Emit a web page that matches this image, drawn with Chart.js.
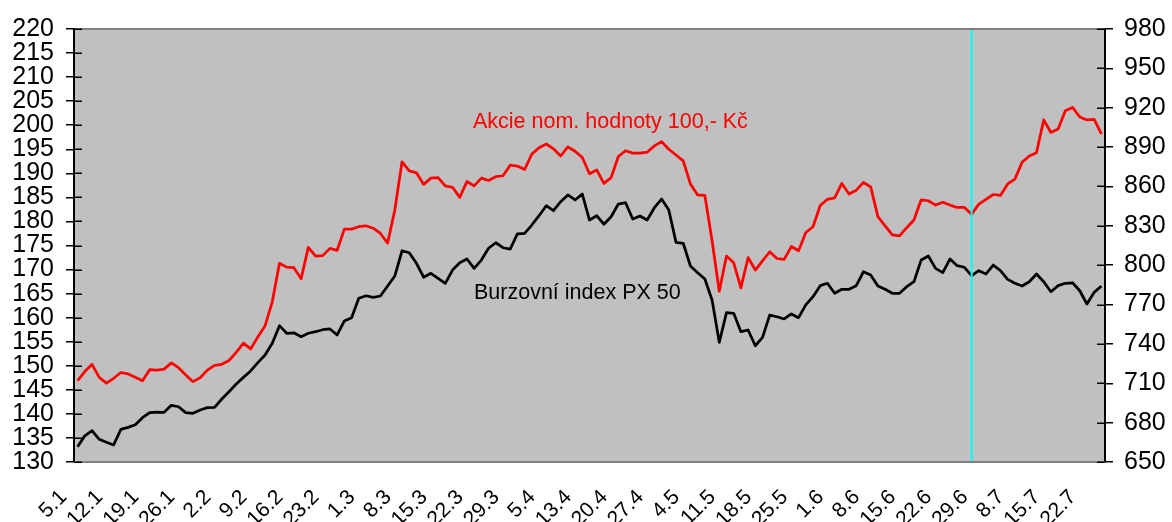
<!DOCTYPE html>
<html><head><meta charset="utf-8">
<script src="https://cdn.jsdelivr.net/npm/chart.js@4/dist/chart.umd.min.js"></script>
<style>html,body{margin:0;padding:0;background:#fff}#wrap{width:1172px;height:522px;position:relative;overflow:hidden}</style>
</head><body><div id="wrap"><canvas id="c" width="1172" height="522"></canvas></div>
<script>
const tickDates = ['5.1','12.1','19.1','26.1','2.2','9.2','16.2','23.2','1.3','8.3','15.3','22.3','29.3','5.4','13.4','20.4','27.4','4.5','11.5','18.5','25.5','1.6','8.6','15.6','22.6','29.6','8.7','15.7','22.7'];

const akcie = [
 146.9,148.8,150.3,147.6,146.4,147.4,148.6,148.3,147.6,146.9,
 149.2,149.1,149.3,150.6,149.6,148.1,146.7,147.5,149.1,150.1,
 150.3,151.1,152.8,154.7,153.5,156.0,158.3,163.3,171.3,170.5,
 170.4,168.1,174.6,172.8,172.9,174.4,174.0,178.4,178.4,178.9,
 179.1,178.6,177.5,175.5,182.4,192.4,190.5,190.1,187.7,189.0,
 189.1,187.4,187.1,185.0,188.3,187.4,189.0,188.5,189.3,189.5,
 191.7,191.5,190.8,194.0,195.3,196.1,195.1,193.6,195.5,194.6,
 193.3,189.9,190.7,187.9,189.1,193.5,194.7,194.2,194.2,194.4,
 195.7,196.6,195.0,193.8,192.6,187.8,185.5,185.4,176.0,165.5,
 172.8,171.4,166.2,172.5,169.9,171.8,173.7,172.3,172.1,174.8,
 173.9,177.7,178.9,183.3,184.6,184.9,187.9,185.7,186.5,188.1,
 187.2,181.0,179.1,177.2,177.0,178.7,180.3,184.5,184.3,183.4,
 184.0,183.4,182.9,182.9,181.5,183.6,184.6,185.6,185.4,187.8,
 188.8,192.3,193.6,194.3,201.1,198.5,199.2,203.0,203.7,201.7,
 201.1,201.2,198.2
];

const px50 = [
 661.7,670.0,673.9,667.3,665.0,663.0,674.9,676.4,678.4,683.8,
 687.6,688.1,687.9,693.2,692.1,687.6,687.1,689.6,691.4,691.7,
 698.0,703.6,709.4,714.5,719.4,725.7,731.5,740.5,753.9,748.1,
 748.5,745.5,748.1,749.3,750.8,751.4,746.8,757.5,760.0,774.8,
 776.7,775.5,776.5,784.1,791.8,811.0,809.5,801.4,790.8,793.8,
 790.0,786.2,796.3,801.9,804.7,797.6,803.9,812.9,817.1,813.3,
 812.3,823.8,824.3,830.6,837.7,845.3,841.5,848.4,853.5,849.7,
 854.2,834.4,837.7,831.2,836.9,846.6,847.6,835.2,837.5,834.4,
 843.8,850.4,842.1,817.4,816.7,799.4,794.3,789.5,773.5,741.2,
 763.8,763.3,749.3,750.6,738.6,745.0,762.0,760.7,759.0,762.8,
 760.0,769.7,776.0,784.4,786.2,778.6,781.6,781.6,784.4,795.0,
 792.5,784.1,781.6,778.6,778.6,783.6,787.4,803.9,807.0,797.6,
 794.3,804.7,799.6,798.4,792.0,795.8,793.3,800.1,795.8,789.2,
 786.2,784.1,787.4,793.3,787.4,779.8,784.4,786.2,786.6,780.5,
 770.4,779.3,784.1
];

const leftTicks = [130,135,140,145,150,155,160,165,170,175,180,185,190,195,200,205,210,215,220];
const rightTicks = [650,680,710,740,770,800,830,860,890,920,950,980];
const markerIndex = 124;
const akcieLabel = 'Akcie nom. hodnoty 100,- Kč';
const px50Label = 'Burzovní index PX 50';
const LABEL_STEP = 5;

const categories = akcie.map((_, i) => (i % LABEL_STEP === 0 && tickDates[i / LABEL_STEP]) ? tickDates[i / LABEL_STEP] : '');

const FONT = '"Liberation Sans", Arial, sans-serif';

const framePlugin = {
  id: 'frame',
  beforeDraw(chart) {
    const {ctx, chartArea: a} = chart;
    ctx.save();
    ctx.fillStyle = '#C0C0C0';
    ctx.fillRect(a.left, a.top, a.right - a.left, a.bottom - a.top);
    ctx.restore();
  },
  afterDatasetsDraw(chart) {
    const {ctx, chartArea: a, scales} = chart;
    ctx.save();
    const mx = scales.x.getPixelForValue(markerIndex);
    ctx.strokeStyle = '#00FFFF';
    ctx.lineWidth = 2;
    ctx.beginPath(); ctx.moveTo(mx, a.top); ctx.lineTo(mx, a.bottom); ctx.stroke();
    ctx.font = '21.5px ' + FONT;
    ctx.textBaseline = 'alphabetic';
    ctx.textAlign = 'left';
    ctx.fillStyle = '#FF0000';
    ctx.fillText(akcieLabel, a.left + 399, a.top + 99);
    ctx.fillStyle = '#000000';
    ctx.fillText(px50Label, a.left + 400, a.top + 270);
    ctx.restore();
  },
  afterDraw(chart) {
    const {ctx, chartArea: a, scales} = chart;
    ctx.save();
    ctx.strokeStyle = '#808080';
    ctx.lineWidth = 2;
    ctx.beginPath();
    ctx.moveTo(a.left, a.top); ctx.lineTo(a.right, a.top);
    ctx.moveTo(a.left, a.bottom); ctx.lineTo(a.right, a.bottom);
    ctx.stroke();
    ctx.strokeStyle = '#000';
    ctx.lineWidth = 1.5;
    ctx.beginPath();
    leftTicks.forEach(v => { const y = Math.round(scales.y.getPixelForValue(v)) + 0.25; ctx.moveTo(a.left, y); ctx.lineTo(a.left + 8, y); });
    rightTicks.forEach(v => { const y = Math.round(scales.y1.getPixelForValue(v)) + 0.25; ctx.moveTo(a.right - 8, y); ctx.lineTo(a.right, y); });
    ctx.stroke();
    ctx.restore();
  }
};

new Chart(document.getElementById('c'), {
  type: 'line',
  data: {
    labels: categories,
    datasets: [
      { label: akcieLabel, data: akcie, yAxisID: 'y', borderColor: '#FF0000', borderWidth: 2.75, pointRadius: 0, tension: 0, fill: false, borderJoinStyle: 'round' },
      { label: px50Label, data: px50, yAxisID: 'y1', borderColor: '#000000', borderWidth: 2.75, pointRadius: 0, tension: 0, fill: false, borderJoinStyle: 'round' }
    ]
  },
  options: {
    responsive: false,
    animation: false,
    devicePixelRatio: 1,
    layout: { padding: { top: 29, left: 0, right: 0, bottom: 0 } },
    plugins: { legend: { display: false }, tooltip: { enabled: false } },
    scales: {
      x: {
        type: 'category',
        offset: true,
        grid: { display: false, drawTicks: false },
        border: { display: false },
        ticks: { autoSkip: false, minRotation: 45, maxRotation: 45, padding: 23, labelOffset: -14, color: '#000', font: { family: FONT, size: 21 } },
        afterFit: s => { s.height = 60; }
      },
      y: {
        position: 'left',
        min: 130, max: 220,
        afterBuildTicks: s => { s.ticks = leftTicks.map(v => ({ value: v })); },
        ticks: { autoSkip: false, padding: 12, color: '#000', font: { family: FONT, size: 25 } },
        grid: { drawOnChartArea: false, drawTicks: true, tickLength: 8, color: '#000', lineWidth: 1.5 },
        border: { display: true, color: '#000', width: 2 },
        afterFit: s => { s.width = 74; }
      },
      y1: {
        position: 'right',
        min: 650, max: 980,
        afterBuildTicks: s => { s.ticks = rightTicks.map(v => ({ value: v })); },
        ticks: { autoSkip: false, padding: 11, color: '#000', font: { family: FONT, size: 25 } },
        grid: { drawOnChartArea: false, drawTicks: true, tickLength: 8, color: '#000', lineWidth: 1.5 },
        border: { display: true, color: '#000', width: 2 },
        afterFit: s => { s.width = 67; }
      }
    }
  },
  plugins: [framePlugin]
});
</script>
</body></html>
